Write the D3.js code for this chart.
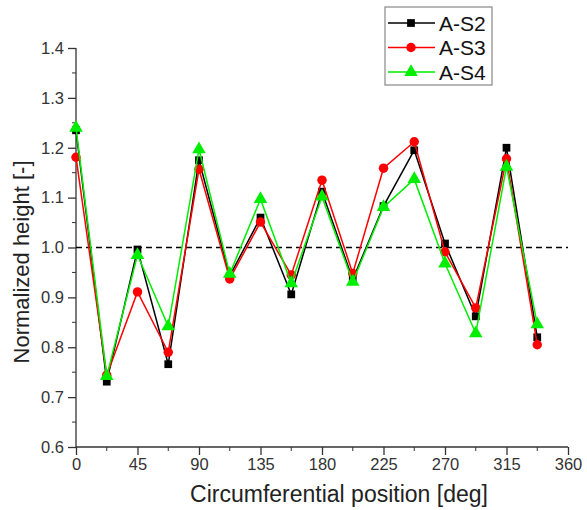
<!DOCTYPE html>
<html>
<head>
<meta charset="utf-8">
<script src="https://cdn.jsdelivr.net/npm/d3@7"></script>
<style>
  body { margin: 0; background: #fff; }
  svg { font-family: Arial, "Liberation Sans", sans-serif; }
</style>
</head>
<body>
<svg id="chart"></svg>
<script>
// circumferential positions [deg]
const positions = [0, 22.5, 45, 67.5, 90, 112.5, 135, 157.5, 180, 202.5, 225, 247.5, 270, 292.5, 315, 337.5];
const seriesNames = ['A-S2', 'A-S3', 'A-S4'];
const valuesS2 = [1.235, 0.731, 0.996, 0.766, 1.175, 0.943, 1.060, 0.906, 1.112, 0.936, 1.083, 1.195, 1.008, 0.862, 1.200, 0.820];
const valuesS3 = [1.181, 0.744, 0.911, 0.790, 1.157, 0.937, 1.051, 0.945, 1.135, 0.948, 1.159, 1.212, 0.991, 0.879, 1.178, 0.805];
const valuesS4 = [1.240, 0.742, 0.985, 0.842, 1.197, 0.947, 1.097, 0.928, 1.102, 0.931, 1.081, 1.137, 0.968, 0.828, 1.162, 0.846];
const xTicks = [0, 45, 90, 135, 180, 225, 270, 315, 360];
const yTicks = [0.6, 0.7, 0.8, 0.9, 1.0, 1.1, 1.2, 1.3, 1.4];
const referenceLevel = 1.0;

const w = 587, h = 510;
const svg = d3.select('#chart').attr('width', w).attr('height', h);

const x = d3.scaleLinear().domain([0, 360]).range([76, 568]);
const y = d3.scaleLinear().domain([0.6, 1.4]).range([447, 48]);

const colors = ['#000000', '#ff0000', '#00ee00'];
const shapes = [d3.symbolSquare, d3.symbolCircle, d3.symbolTriangle];
const sizes = [60, 70, 80];
const allValues = [valuesS2, valuesS3, valuesS4];

// axes
const xMinor = d3.range(22.5, 360, 45);
const yMinor = d3.range(0.65, 1.4, 0.1);

const xAxis = svg.append('g').attr('transform', `translate(0,${y(0.6)})`);
xAxis.call(d3.axisBottom(x).tickValues(xTicks).tickFormat(d3.format('d')).tickSize(8).tickPadding(3));
xAxis.selectAll('.domain').attr('d', `M${x(0)},0H${x(360)}`);
xAxis.append('g').selectAll('line').data(xMinor).join('line')
  .attr('x1', d => x(d)).attr('x2', d => x(d)).attr('y1', 0).attr('y2', 4)
  .attr('stroke', '#333');

const yAxis = svg.append('g').attr('transform', `translate(${x(0)},0)`);
yAxis.call(d3.axisLeft(y).tickValues(yTicks).tickFormat(d3.format('.1f')).tickSize(8).tickPadding(4));
yAxis.selectAll('.domain').attr('d', `M0,${y(0.6)}V${y(1.4)}`);
yAxis.append('g').selectAll('line').data(yMinor).join('line')
  .attr('x1', 0).attr('x2', -4).attr('y1', d => y(d)).attr('y2', d => y(d))
  .attr('stroke', '#333');

svg.selectAll('.domain, .tick line').attr('stroke', '#333').attr('stroke-width', 1.3);
svg.selectAll('.tick text').attr('fill', '#333').style('font-size', '16.5px');

// axis titles
svg.append('text')
  .attr('x', 339).attr('y', 502)
  .attr('text-anchor', 'middle').attr('fill', '#222')
  .style('font-size', '23px')
  .text('Circumferential position [deg]');
svg.append('text')
  .attr('transform', `translate(29,262) rotate(-90)`)
  .attr('text-anchor', 'middle').attr('fill', '#222')
  .style('font-size', '22px')
  .text('Normalized height [-]');

// reference dashed line
svg.append('line')
  .attr('x1', x(0)).attr('x2', x(360))
  .attr('y1', y(referenceLevel)).attr('y2', y(referenceLevel))
  .attr('stroke', '#000').attr('stroke-width', 1.3).attr('stroke-dasharray', '6,4');

// series
const line = d3.line().x(d => x(d[0])).y(d => y(d[1]));
allValues.forEach((vals, i) => {
  const pts = positions.map((p, j) => [p, vals[j]]);
  svg.append('path').datum(pts)
    .attr('d', line).attr('fill', 'none')
    .attr('stroke', colors[i]).attr('stroke-width', 1.5);
  svg.append('g').selectAll('path').data(pts).join('path')
    .attr('transform', d => `translate(${x(d[0])},${y(d[1])})`)
    .attr('d', d3.symbol().type(shapes[i]).size(sizes[i]))
    .attr('fill', colors[i]);
});

// legend
const legend = svg.append('g');
legend.append('rect')
  .attr('x', 385).attr('y', 7).attr('width', 107).attr('height', 78)
  .attr('fill', '#fff').attr('stroke', '#888').attr('stroke-width', 1.2);
seriesNames.forEach((name, i) => {
  const ly = 23 + i * 24.5;
  legend.append('line')
    .attr('x1', 388).attr('x2', 435).attr('y1', ly).attr('y2', ly)
    .attr('stroke', colors[i]).attr('stroke-width', 1.5);
  legend.append('path')
    .attr('transform', `translate(411,${ly})`)
    .attr('d', d3.symbol().type(shapes[i]).size(sizes[i]))
    .attr('fill', colors[i]);
  legend.append('text')
    .attr('x', 439).attr('y', ly + 7.5)
    .attr('fill', '#111').style('font-size', '21px')
    .text(name);
});
</script>
</body>
</html>
